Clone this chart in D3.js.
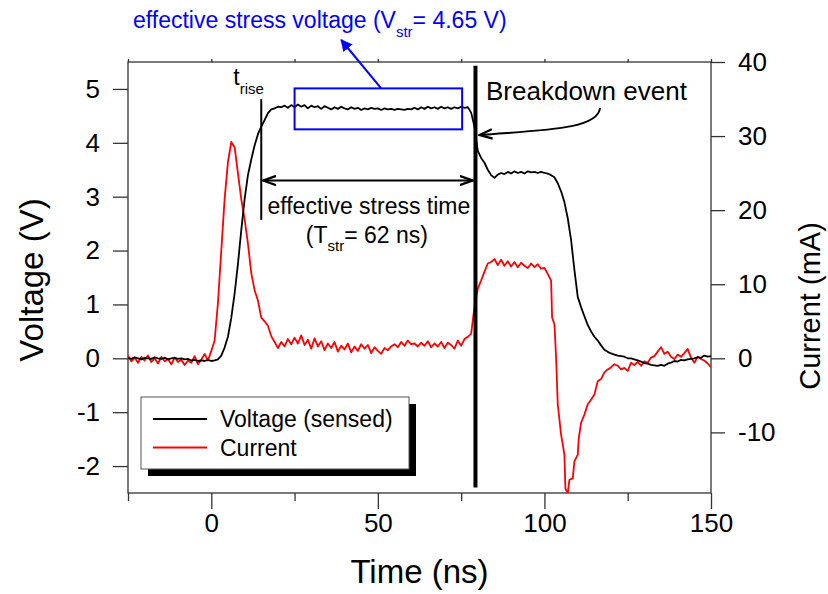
<!DOCTYPE html>
<html>
<head>
<meta charset="utf-8">
<script src="https://cdn.jsdelivr.net/npm/d3@7"></script>
<style>
  body { margin: 0; background: #fff; }
  text { font-family: "Liberation Sans", Arial, sans-serif; }
</style>
</head>
<body>
<div id="chart"></div>
<script>
// time (ns) / voltage (V)
var voltTime = [-25,-24,-23,-22,-21,-20,-19,-18,-17,-16,-15,-14,-13,-12,-11,-10,-9,-8,-7,-6,-5,-4,-3,-2,-1,0,1,2,3,4,5,6,7,8,9,10,11,12,13,14,15,16,17,18,19,20,21,22,23,24,25,26,27,28,29,30,31,32,33,34,35,36,37,38,39,40,41,42,43,44,45,46,47,48,49,50,51,52,53,54,55,56,57,58,59,60,61,62,63,64,65,66,67,68,69,70,71,72,73,74,75,76,77,78,79,80,81,82,83,84,85,86,87,88,89,90,91,92,93,94,95,96,97,98,99,100,101,102,103,104,105,106,107,108,109,110,111,112,113,114,115,116,117,118,119,120,121,122,123,124,125,126,127,128,129,130,131,132,133,134,135,136,137,138,139,140,141,142,143,144,145,146,147,148,149,150];
var voltage = [0.01,-0.01,0.02,0.0,-0.02,0.01,0.0,-0.01,0.02,0.0,-0.01,0.01,-0.02,0.0,0.01,-0.01,0.0,-0.02,-0.01,-0.04,-0.03,-0.05,-0.04,-0.05,-0.03,-0.05,-0.04,-0.02,0.05,0.2,0.4,0.75,1.2,1.75,2.38,2.95,3.4,3.69,3.95,4.16,4.3,4.42,4.55,4.62,4.64,4.67,4.66,4.69,4.65,4.7,4.66,4.71,4.67,4.7,4.64,4.69,4.66,4.68,4.63,4.68,4.65,4.62,4.66,4.63,4.67,4.64,4.62,4.66,4.63,4.65,4.61,4.64,4.62,4.65,4.63,4.64,4.61,4.64,4.62,4.63,4.61,4.63,4.62,4.61,4.63,4.62,4.65,4.62,4.66,4.63,4.67,4.64,4.66,4.63,4.67,4.64,4.66,4.63,4.66,4.64,4.67,4.65,4.66,4.56,4.3,3.85,3.72,3.63,3.5,3.4,3.35,3.41,3.44,3.42,3.46,3.43,3.47,3.44,3.46,3.43,3.47,3.45,3.46,3.44,3.46,3.44,3.43,3.4,3.36,3.25,3.1,2.9,2.6,2.2,1.64,1.14,0.95,0.78,0.62,0.5,0.4,0.33,0.24,0.16,0.12,0.09,0.07,0.05,0.04,0.03,0.0,0.0,-0.02,-0.04,-0.06,-0.09,-0.1,-0.12,-0.13,-0.14,-0.12,-0.14,-0.1,-0.08,-0.05,-0.06,-0.03,-0.04,-0.02,-0.01,0.0,0.02,0.01,0.05,0.03,0.04];

// time (ns) / current (mA)
var currTime = [-25,-24,-23,-22,-21,-20,-19,-18,-17,-16,-15,-14,-13,-12,-11,-10,-9,-8,-7,-6,-5,-4,-3,-2,-1,0,1,2,3,4,5,6,7,8,9,10,11,12,13,14,15,16,17,18,19,20,21,22,23,24,25,26,27,28,29,30,31,32,33,34,35,36,37,38,39,40,41,42,43,44,45,46,47,48,49,50,51,52,53,54,55,56,57,58,59,60,61,62,63,64,65,66,67,68,69,70,71,72,73,74,75,76,77,78,79,80,81,82,83,84,85,86,87,88,89,90,91,92,93,94,95,96,97,98,99,100,101,102,102.3,103,103.5,104,105,106,106.3,107,107.5,108.5,109,110,110.3,111,112,113,114,115,116,117,118,119,120,121,122,123,124,125,126,127,128,129,130,131,132,133,134,135,136,137,138,139,140,141,142,143,144,145,146,147,148,149,150];
var current = [0.3,-0.4,0.1,-0.6,0.2,-0.3,0.4,-0.5,0.0,-0.7,0.2,-0.4,-0.1,-0.8,0.1,-0.5,-0.2,-0.9,-0.3,-0.6,0.3,-0.8,-0.2,0.6,-0.3,1.0,2.4,7.5,14.5,21.5,26.5,29.2,28.5,25.0,21.5,18.8,15.5,11.5,9.2,7.8,5.5,5.0,4.4,3.0,2.2,1.4,2.2,1.6,2.6,1.9,2.8,2.0,3.1,1.8,2.5,1.3,2.7,1.6,2.3,1.1,2.0,1.4,2.2,0.9,1.7,1.2,2.0,0.8,1.6,1.0,1.9,1.3,1.8,0.7,1.5,1.0,0.6,1.4,1.1,1.6,1.9,1.5,2.2,1.7,2.4,1.9,2.0,1.6,2.1,1.7,2.3,1.5,2.0,1.6,2.2,1.4,2.1,1.8,1.3,2.4,1.7,2.6,2.9,3.3,6.9,9.4,10.5,11.7,12.8,13.0,13.4,12.6,13.3,12.5,13.1,12.4,13.0,12.3,12.9,12.5,12.2,12.8,12.3,12.7,12.1,12.2,11.4,10.5,5.5,4.6,0.1,-6.2,-10.3,-13.0,-17.6,-18.2,-16.4,-16.2,-13.9,-13.0,-10.8,-8.7,-7.6,-6.2,-5.6,-4.9,-3.1,-2.8,-1.9,-1.5,-1.2,-0.8,-1.0,-1.5,-1.3,-1.7,-0.6,-0.9,-0.5,-1.0,-0.4,-0.6,0.1,0.3,0.9,1.5,0.6,0.9,0.2,-0.1,0.5,0.2,0.7,1.25,0.1,-0.6,0.2,-0.1,-0.3,-0.7,-1.2];

var timeTicks = [0, 50, 100, 150];
var timeMinor = [-25, 25, 75, 125];
var voltTicks = [-2, -1, 0, 1, 2, 3, 4, 5];
var currTicks = [-10, 0, 10, 20, 30, 40];

var tRise = 15, tBreak = 79.3;

var width = 828, height = 594;
var margin = {top: 62, right: 117, bottom: 101, left: 128};
var w = width - margin.left - margin.right,
    h = height - margin.top - margin.bottom;

var x = d3.scaleLinear().domain([-25, 150]).range([0, w]);
var y = d3.scaleLinear().domain([-2.5, 5.5]).range([h, 0]);
var y2 = d3.scaleLinear().domain([-2.5 * 40 / 5.5, 40]).range([h, 0]);

var svg = d3.select("#chart").append("svg")
    .attr("width", width)
    .attr("height", height);

var defs = svg.append("defs");
defs.append("clipPath").attr("id", "clip")
  .append("rect").attr("width", w).attr("height", h);
defs.append("marker").attr("id", "blueHead")
    .attr("viewBox", "0 0 10 10").attr("refX", 9).attr("refY", 5)
    .attr("markerWidth", 12).attr("markerHeight", 12)
    .attr("markerUnits", "userSpaceOnUse").attr("orient", "auto")
  .append("path").attr("d", "M0,0 L10,5 L0,10 Z").attr("fill", "#0000ff");
defs.append("marker").attr("id", "blackHead")
    .attr("viewBox", "0 0 12 10").attr("refX", 11).attr("refY", 5)
    .attr("markerWidth", 14).attr("markerHeight", 12)
    .attr("markerUnits", "userSpaceOnUse").attr("orient", "auto-start-reverse")
  .append("path").attr("d", "M0,1 L11,5 L0,9").attr("fill", "none")
    .attr("stroke", "#000").attr("stroke-width", 2);

var g = svg.append("g")
    .attr("transform", "translate(" + margin.left + "," + margin.top + ")");

// frame
g.append("rect").attr("width", w).attr("height", h)
  .attr("fill", "none").attr("stroke", "#333").attr("stroke-width", 1.3);

// axes
var axisStyle = function(sel) {
  sel.select(".domain").remove();
  sel.selectAll(".tick line").attr("stroke", "#333").attr("stroke-width", 1.3);
  sel.selectAll(".tick text").attr("fill", "#000")
    .style("font-family", "'Liberation Sans', Arial, sans-serif")
    .style("font-size", "26px");
};
var plain = function(d) { return String(d); };

g.append("g").attr("transform", "translate(0," + h + ")")
  .call(d3.axisBottom(x).tickValues(timeTicks).tickSize(16).tickPadding(5).tickFormat(plain))
  .call(axisStyle);
g.append("g").attr("transform", "translate(0," + h + ")")
  .call(d3.axisBottom(x).tickValues(timeMinor).tickSize(8).tickFormat(""))
  .call(axisStyle);
g.append("g")
  .call(d3.axisTop(x).tickValues(timeTicks.concat(timeMinor)).tickSize(3).tickFormat(""))
  .call(axisStyle);
g.append("g")
  .call(d3.axisLeft(y).tickValues(voltTicks).tickSize(15).tickPadding(13).tickFormat(plain))
  .call(axisStyle);
g.append("g").attr("transform", "translate(" + w + ",0)")
  .call(d3.axisRight(y2).tickValues(currTicks).tickSize(14).tickPadding(13).tickFormat(plain))
  .call(axisStyle);

// axis titles
svg.append("text").attr("x", margin.left + x(62.5)).attr("y", 583)
  .attr("text-anchor", "middle").style("font-size", "33px").text("Time (ns)");
svg.append("text").attr("transform", "translate(43,280) rotate(-90)")
  .attr("text-anchor", "middle").style("font-size", "33px").text("Voltage (V)");
svg.append("text").attr("transform", "translate(820,306) rotate(-90)")
  .attr("text-anchor", "middle").style("font-size", "29px").text("Current (mA)");

// traces
var plot = g.append("g").attr("clip-path", "url(#clip)");
var vLine = d3.line().x(function(d, i) { return x(voltTime[i]); }).y(function(d) { return y(d); });
var iLine = d3.line().x(function(d, i) { return x(currTime[i]); }).y(function(d) { return y2(d); });

plot.append("path").datum(current)
  .attr("fill", "none").attr("stroke", "#ff0000").attr("stroke-width", 1.8)
  .attr("stroke-linejoin", "round").attr("d", iLine);
plot.append("path").datum(voltage)
  .attr("fill", "none").attr("stroke", "#000").attr("stroke-width", 1.8)
  .attr("stroke-linejoin", "round").attr("d", vLine);

// breakdown marker
g.append("line").attr("x1", x(tBreak)).attr("x2", x(tBreak))
  .attr("y1", y(5.43)).attr("y2", y(-2.4))
  .attr("stroke", "#000").attr("stroke-width", 4);

// t_rise marker
g.append("line").attr("x1", x(tRise)).attr("x2", x(tRise))
  .attr("y1", y(4.81)).attr("y2", y(2.57))
  .attr("stroke", "#000").attr("stroke-width", 2);
var tr = g.append("text").attr("x", x(tRise) - 28).attr("y", 23)
  .style("font-size", "23px");
tr.append("tspan").text("t");
tr.append("tspan").attr("dy", 9).style("font-size", "15px").text("rise");

// effective stress time arrow
g.append("line").attr("x1", x(tRise) + 2).attr("x2", x(tBreak) - 3)
  .attr("y1", y(3.3)).attr("y2", y(3.3))
  .attr("stroke", "#000").attr("stroke-width", 2)
  .attr("marker-start", "url(#blackHead)").attr("marker-end", "url(#blackHead)");
g.append("text").attr("x", x(47.3)).attr("y", 152)
  .attr("text-anchor", "middle").style("font-size", "23px").text("effective stress time");
var ts = g.append("text").attr("x", x(46.7)).attr("y", 181)
  .attr("text-anchor", "middle").style("font-size", "23px");
ts.append("tspan").text("(T");
ts.append("tspan").attr("dy", 8).style("font-size", "15px").text("str");
ts.append("tspan").attr("dy", -8).text("= 62 ns)");

// effective stress voltage box + label
g.append("rect").attr("x", x(25)).attr("y", y(5.01))
  .attr("width", x(75.3) - x(25)).attr("height", y(4.25) - y(5.01))
  .attr("fill", "none").attr("stroke", "#0000ff").attr("stroke-width", 2);
g.append("line").attr("x1", x(51)).attr("y1", y(5.01))
  .attr("x2", x(39)).attr("y2", -22)
  .attr("stroke", "#0000ff").attr("stroke-width", 2)
  .attr("marker-end", "url(#blueHead)");
var sv = svg.append("text").attr("x", 133).attr("y", 28).attr("fill", "#0000ff")
  .style("font-size", "23px");
sv.append("tspan").text("effective stress voltage (V");
sv.append("tspan").attr("dy", 9).style("font-size", "15px").text("str");
sv.append("tspan").attr("dy", -9).text("= 4.65 V)");

// breakdown label + curved arrow
svg.append("text").attr("x", 486).attr("y", 100).style("font-size", "26px").text("Breakdown event");
g.append("path")
  .attr("d", "M" + (600 - margin.left) + "," + (108 - margin.top) +
             " C" + (598 - margin.left) + "," + (130 - margin.top) + " " +
             (540 - margin.left) + "," + (130 - margin.top) + " " +
             (x(tBreak) + 4) + "," + (135 - margin.top))
  .attr("fill", "none").attr("stroke", "#000").attr("stroke-width", 2)
  .attr("marker-end", "url(#blackHead)");

// legend
var leg = svg.append("g").attr("transform", "translate(141,397)");
leg.append("rect").attr("x", 7).attr("y", 7).attr("width", 268).attr("height", 72).attr("fill", "#000");
leg.append("rect").attr("width", 268).attr("height", 72)
  .attr("fill", "#fff").attr("stroke", "#555").attr("stroke-width", 1);
var legendItems = [{name: "Voltage (sensed)", color: "#000"}, {name: "Current", color: "#ff0000"}];
legendItems.forEach(function(d, i) {
  var yy = 22 + i * 28.5;
  leg.append("line").attr("x1", 12).attr("x2", 66).attr("y1", yy).attr("y2", yy)
    .attr("stroke", d.color).attr("stroke-width", 2);
  leg.append("text").attr("x", 79).attr("y", yy + 8).style("font-size", "23px").text(d.name);
});
</script>
</body>
</html>
